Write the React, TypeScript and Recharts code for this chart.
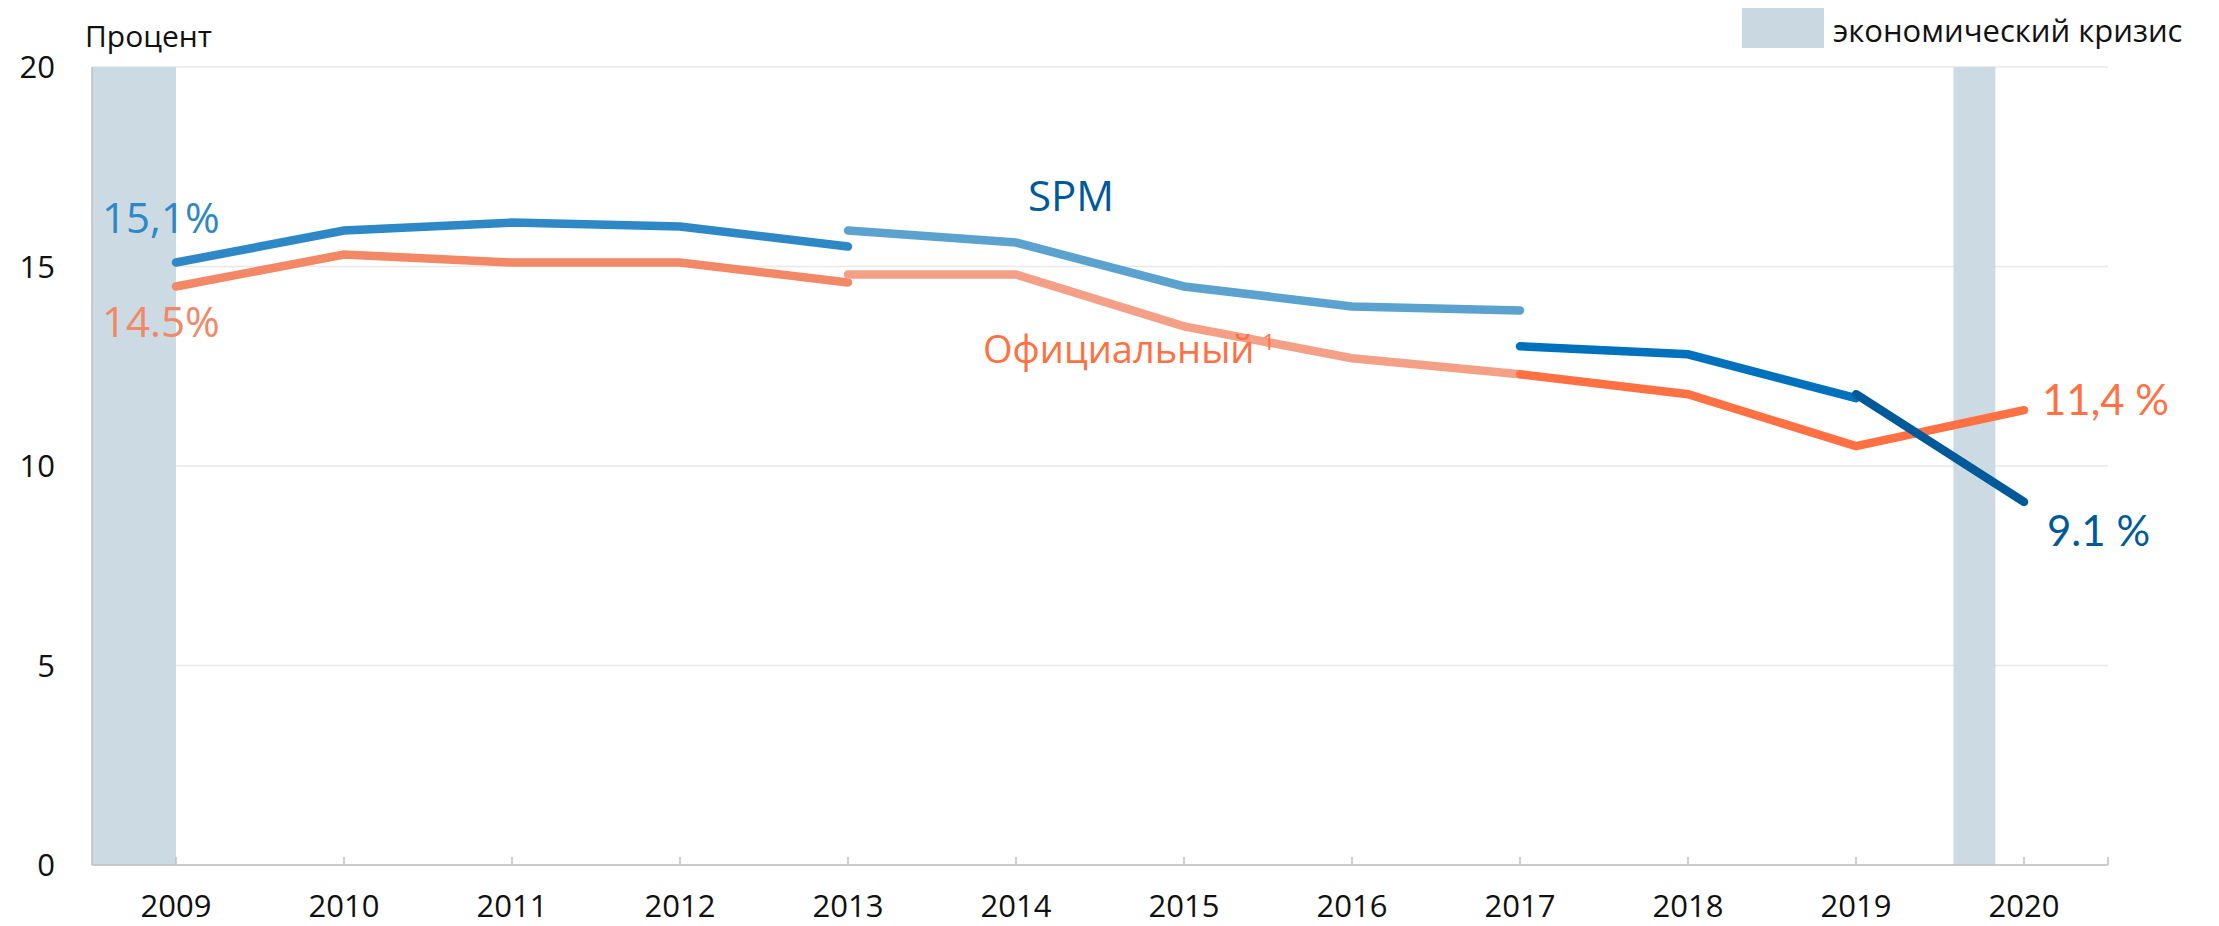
import React from 'react';
import { LineChart, Line, XAxis, YAxis, CartesianGrid, ReferenceArea, ReferenceDot } from 'recharts';

// ---- Data ----
const years = [2009, 2010, 2011, 2012, 2013, 2014, 2015, 2016, 2017, 2018, 2019, 2020];

// SPM poverty rate, in four methodological segments
const spmSeg1Years = [2009, 2010, 2011, 2012, 2013];
const spmSeg1 = [15.1, 15.9, 16.1, 16.0, 15.5];
const spmSeg2Years = [2013, 2014, 2015, 2016, 2017];
const spmSeg2 = [15.9, 15.6, 14.5, 14.0, 13.9];
const spmSeg3Years = [2017, 2018, 2019];
const spmSeg3 = [13.0, 12.8, 11.7];
const spmSeg4Years = [2019, 2020];
const spmSeg4 = [11.8, 9.1];

// Official poverty rate, in three segments
const offSeg1Years = [2009, 2010, 2011, 2012, 2013];
const offSeg1 = [14.5, 15.3, 15.1, 15.1, 14.6];
const offSeg2Years = [2013, 2014, 2015, 2016, 2017];
const offSeg2 = [14.8, 14.8, 13.5, 12.7, 12.3];
const offSeg3Years = [2017, 2018, 2019, 2020];
const offSeg3 = [12.3, 11.8, 10.5, 11.4];

// Economic crises (shaded periods, in fractional years on the axis)
const crisisStart = [2008.5, 2019.58];
const crisisEnd = [2009, 2019.83];

const xTicks = [2009, 2010, 2011, 2012, 2013, 2014, 2015, 2016, 2017, 2018, 2019, 2020, 2020.5];
const yTicks = [0, 5, 10, 15, 20];

const lookup = (ys: number[], vs: number[], y: number) => {
  const i = ys.indexOf(y);
  return i >= 0 ? vs[i] : null;
};

const rows = years.map((y) => ({
  year: y,
  spm1: lookup(spmSeg1Years, spmSeg1, y),
  spm2: lookup(spmSeg2Years, spmSeg2, y),
  spm3: lookup(spmSeg3Years, spmSeg3, y),
  spm4: lookup(spmSeg4Years, spmSeg4, y),
  off1: lookup(offSeg1Years, offSeg1, y),
  off2: lookup(offSeg2Years, offSeg2, y),
  off3: lookup(offSeg3Years, offSeg3, y),
}));

// ---- Styles ----
const FONT = "'Open Sans', 'Noto Sans', sans-serif";
const LATO = "Lato, 'Open Sans', sans-serif";
const C = {
  crisis: '#c9d8e1',
  spm1: '#2e88c5',
  spm2: '#5ca2cf',
  spm3: '#0071bc',
  spm4: '#005a9a',
  off1: '#f38866',
  off2: '#f4a086',
  off3: '#ff7043',
  axis: '#bfbfbf',
  grid: '#e8e8e8',
};
const LW = 8.5;

const XTick = (props: any) => {
  const { x, y, payload } = props;
  const v = payload.value;
  const isEnd = v === 2020.5;
  return (
    <g>
      <line x1={x} x2={x} y1={y - 8} y2={y} stroke={C.axis} strokeWidth={1.5} />
      {!isEnd && (
        <text x={x} y={y + 52} textAnchor="middle" fontSize={31} fontFamily={FONT} fill="#111">
          {v}
        </text>
      )}
    </g>
  );
};

const textAt = (
  dx: number,
  dy: number,
  text: string,
  color: string,
  size: number,
  family: string,
  sup?: string
) =>
  (p: any) => (
    <text x={p.cx + dx} y={p.cy + dy} fill={color} fontSize={size} fontFamily={family}>
      {text}
      {sup ? (
        <tspan fontSize={22} dx={8} dy={-13}>
          {sup}
        </tspan>
      ) : null}
    </text>
  );

const lineProps = {
  type: 'linear' as const,
  strokeWidth: LW,
  dot: false,
  activeDot: false,
  isAnimationActive: false,
  connectNulls: false,
  strokeLinecap: 'round' as const,
};

export default function App() {
  return (
    <div style={{ position: 'absolute', top: 0, left: 0, width: 2219, height: 926, background: '#fff' }}>
      <LineChart
        width={2219}
        height={926}
        data={rows}
        margin={{ top: 67, right: 111, left: 0, bottom: 0 }}
      >
        <CartesianGrid vertical={false} stroke={C.grid} strokeWidth={1.5} />
        {crisisStart.map((s, i) => (
          <ReferenceArea
            key={'c' + i}
            x1={s}
            x2={crisisEnd[i]}
            y1={0}
            y2={20}
            fill={C.crisis}
            fillOpacity={0.95}
            stroke="none"
            ifOverflow="visible"
          />
        ))}
        <XAxis
          dataKey="year"
          type="number"
          domain={[2008.5, 2020.5]}
          ticks={xTicks}
          interval={0}
          height={61}
          tickLine={false}
          tickSize={0}
          tickMargin={0}
          axisLine={{ stroke: C.axis, strokeWidth: 1.5 }}
          tick={<XTick />}
        />
        <YAxis
          type="number"
          domain={[0, 20]}
          ticks={yTicks}
          width={92}
          tickLine={false}
          tickSize={0}
          tickMargin={37}
          axisLine={{ stroke: C.axis, strokeWidth: 1.5 }}
          tick={{ fill: '#111', fontSize: 31, fontFamily: FONT }}
        />
        <Line {...lineProps} dataKey="off1" stroke={C.off1} />
        <Line {...lineProps} dataKey="off2" stroke={C.off2} />
        <Line {...lineProps} dataKey="off3" stroke={C.off3} />
        <Line {...lineProps} dataKey="spm1" stroke={C.spm1} />
        <Line {...lineProps} dataKey="spm2" stroke={C.spm2} />
        <Line {...lineProps} dataKey="spm3" stroke={C.spm3} />
        <Line {...lineProps} dataKey="spm4" stroke={C.spm4} />

        <ReferenceDot
          x={spmSeg1Years[0]}
          y={spmSeg1[0]}
          r={0}
          ifOverflow="visible"
          shape={textAt(-74, -30, '15,1%', C.spm1, 42, FONT)}
        />
        <ReferenceDot
          x={offSeg1Years[0]}
          y={offSeg1[0]}
          r={0}
          ifOverflow="visible"
          shape={textAt(-74, 51, '14.5%', C.off1, 42, FONT)}
        />
        <ReferenceDot
          x={spmSeg2Years[1]}
          y={spmSeg2[1]}
          r={0}
          ifOverflow="visible"
          shape={textAt(12, -32, 'SPM', C.spm4, 42, FONT)}
        />
        <ReferenceDot
          x={offSeg2Years[2]}
          y={offSeg2[2]}
          r={0}
          ifOverflow="visible"
          shape={textAt(-201, 37, 'Официальный', C.off3, 38, FONT, '1')}
        />
        <ReferenceDot
          x={offSeg3Years[3]}
          y={offSeg3[3]}
          r={0}
          ifOverflow="visible"
          shape={textAt(18, 5, '11,4 %', C.off3, 42, LATO)}
        />
        <ReferenceDot
          x={spmSeg4Years[1]}
          y={spmSeg4[1]}
          r={0}
          ifOverflow="visible"
          shape={textAt(23, 44, '9.1 %', C.spm4, 42, LATO)}
        />
      </LineChart>
      <svg
        width={2219}
        height={926}
        style={{ position: 'absolute', top: 0, left: 0, pointerEvents: 'none' }}
      >
        <text x={85} y={47} fontSize={30} fontFamily={FONT} fill="#111">
          Процент
        </text>
        <rect x={1742} y={8} width={82} height={40} fill={C.crisis} />
        <text x={1833} y={42} fontSize={31} fontFamily={FONT} fill="#111">
          экономический кризис
        </text>
      </svg>
    </div>
  );
}
